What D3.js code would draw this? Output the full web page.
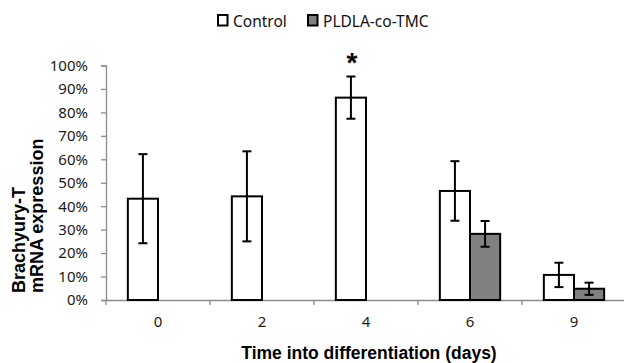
<!DOCTYPE html>
<html>
<head>
<meta charset="utf-8">
<script src="https://cdn.jsdelivr.net/npm/d3@7"></script>
<style>
  body { margin: 0; background: #fff; }
  svg { display: block; }
</style>
</head>
<body>
<div id="chart"></div>
<script>
// data
const days = ["0", "2", "4", "6", "9"];
const seriesNames = ["Control", "PLDLA-co-TMC"];
const controlValues = [0.432, 0.442, 0.863, 0.465, 0.107];
const controlErrors = [0.19, 0.192, 0.09, 0.127, 0.052];
const pldlaValues = [null, null, null, 0.282, 0.048];
const pldlaErrors = [null, null, null, 0.055, 0.026];
const yTicks = [0, 0.1, 0.2, 0.3, 0.4, 0.5, 0.6, 0.7, 0.8, 0.9, 1.0];
const significant = ["4"];

const width = 624, height = 363;
const fills = ["#ffffff", "#808080"];

const svg = d3.select("#chart").append("svg")
    .attr("width", width)
    .attr("height", height);

const x0 = d3.scaleBand()
    .domain(days)
    .range([106, 626])
    .paddingInner(0.42)
    .paddingOuter(0.21);

const x1 = d3.scaleBand()
    .domain(seriesNames)
    .range([0, x0.bandwidth()]);

const y = d3.scaleLinear()
    .domain([0, 1])
    .range([300, 65.5]);

// rows for drawing
const rows = [];
days.forEach((d, i) => {
    rows.push({ day: d, series: seriesNames[0], value: controlValues[i], err: controlErrors[i] });
    if (pldlaValues[i] != null)
        rows.push({ day: d, series: seriesNames[1], value: pldlaValues[i], err: pldlaErrors[i] });
});

// y axis
const yAxis = svg.append("g")
    .attr("transform", "translate(106,0)")
    .call(d3.axisLeft(y).tickValues(yTicks).tickFormat(d3.format(".0%")).tickSize(5).tickPadding(13));
yAxis.select(".domain").attr("stroke", "#8c8c8c").attr("stroke-width", 1.3);
yAxis.selectAll(".tick line").attr("stroke", "#8c8c8c").attr("stroke-width", 1.3);
yAxis.selectAll(".tick text")
    .attr("style", "font-family:'Noto Sans';font-size:15px;fill:#1a1a1a;");

// x axis line and ticks between categories
const xAxis = svg.append("g")
    .attr("transform", "translate(0,300)")
    .call(d3.axisBottom(x0).tickSize(0).tickPadding(16));
xAxis.select(".domain").attr("stroke", "#8c8c8c").attr("stroke-width", 1.3);
xAxis.selectAll(".tick text")
    .attr("style", "font-family:'Noto Sans';font-size:15px;fill:#1a1a1a;");
const step = x0.step();
svg.append("g").selectAll("line")
    .data(d3.range(days.length + 1))
    .join("line")
    .attr("x1", i => 106 + i * step)
    .attr("x2", i => 106 + i * step)
    .attr("y1", 300)
    .attr("y2", 305)
    .attr("stroke", "#8c8c8c")
    .attr("stroke-width", 1.3);

// bars
svg.append("g").selectAll("rect")
    .data(rows)
    .join("rect")
    .attr("x", d => x0(d.day) + x1(d.series))
    .attr("y", d => y(d.value))
    .attr("width", x1.bandwidth())
    .attr("height", d => y(0) - y(d.value))
    .attr("fill", d => fills[seriesNames.indexOf(d.series)])
    .attr("stroke", "#000")
    .attr("stroke-width", 2);

// error bars
const eb = svg.append("g").attr("stroke", "#000").attr("stroke-width", 2);
rows.forEach(d => {
    const cx = x0(d.day) + x1(d.series) + x1.bandwidth() / 2;
    const top = y(d.value + d.err), bot = y(d.value - d.err);
    eb.append("line").attr("x1", cx).attr("x2", cx).attr("y1", top).attr("y2", bot);
    eb.append("line").attr("x1", cx - 4.5).attr("x2", cx + 4.5).attr("y1", top).attr("y2", top);
    eb.append("line").attr("x1", cx - 4.5).attr("x2", cx + 4.5).attr("y1", bot).attr("y2", bot);
});

// significance star
rows.filter(d => significant.includes(d.day) && d.series === seriesNames[0]).forEach(d => {
    svg.append("text")
        .attr("x", x0(d.day) + x1(d.series) + x1.bandwidth() / 2 + 1)
        .attr("y", y(d.value + d.err) - 5)
        .attr("text-anchor", "middle")
        .attr("style", "font-family:'Liberation Sans';font-weight:bold;font-size:28px;fill:#000;")
        .text("*");
});

// legend
const legendX = [218, 308];
const legend = svg.append("g").selectAll("g")
    .data(seriesNames)
    .join("g")
    .attr("transform", (d, i) => "translate(" + legendX[i] + ",15)");
legend.append("rect")
    .attr("width", 9.5)
    .attr("height", 10.5)
    .attr("fill", (d, i) => fills[i])
    .attr("stroke", "#000")
    .attr("stroke-width", 2);
legend.append("text")
    .attr("x", 15)
    .attr("y", 11.5)
    .attr("style", "font-family:'Noto Sans';font-size:15.5px;fill:#111;")
    .text(d => d);

// axis titles
svg.append("text")
    .attr("x", 369)
    .attr("y", 359)
    .attr("text-anchor", "middle")
    .attr("style", "font-family:'Liberation Sans';font-weight:bold;font-size:17.5px;fill:#000;")
    .text("Time into differentiation (days)");

const yTitle = svg.append("text")
    .attr("transform", "translate(0,293) rotate(-90)")
    .attr("style", "font-family:'Liberation Sans';font-weight:bold;font-size:18px;fill:#000;");
yTitle.append("tspan").attr("x", 0).attr("y", 25).text("Brachyury-T");
yTitle.append("tspan").attr("x", 0).attr("y", 43).text("mRNA expression");
</script>
</body>
</html>
